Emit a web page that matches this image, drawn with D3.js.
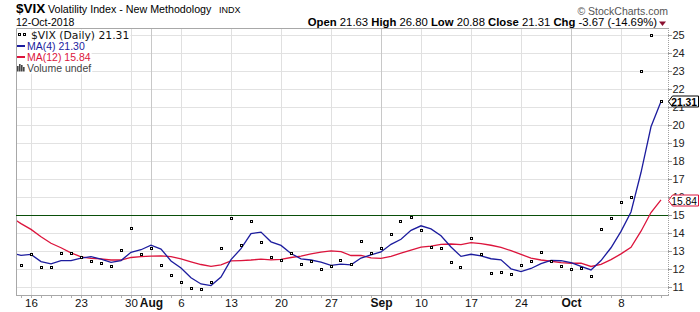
<!DOCTYPE html>
<html>
<head>
<meta charset="utf-8">
<script src="https://cdn.jsdelivr.net/npm/d3@7/dist/d3.min.js"></script>
<style>
  body { margin: 0; background: #fff; }
  svg { display: block; font-family: "Liberation Sans", Arial, sans-serif; }
</style>
</head>
<body>
<div id="chart"></div>
<script>
// trading days shown (first one sits just left of the frame)
const dates = [
  "2018-07-12","2018-07-13","2018-07-16","2018-07-17","2018-07-18","2018-07-19","2018-07-20",
  "2018-07-23","2018-07-24","2018-07-25","2018-07-26","2018-07-27","2018-07-30","2018-07-31",
  "2018-08-01","2018-08-02","2018-08-03","2018-08-06","2018-08-07","2018-08-08","2018-08-09","2018-08-10",
  "2018-08-13","2018-08-14","2018-08-15","2018-08-16","2018-08-17","2018-08-20","2018-08-21","2018-08-22",
  "2018-08-23","2018-08-24","2018-08-27","2018-08-28","2018-08-29","2018-08-30","2018-08-31",
  "2018-09-04","2018-09-05","2018-09-06","2018-09-07","2018-09-10","2018-09-11","2018-09-12","2018-09-13",
  "2018-09-14","2018-09-17","2018-09-18","2018-09-19","2018-09-20","2018-09-21","2018-09-24","2018-09-25",
  "2018-09-26","2018-09-27","2018-09-28",
  "2018-10-01","2018-10-02","2018-10-03","2018-10-04","2018-10-05","2018-10-08","2018-10-09","2018-10-10",
  "2018-10-11","2018-10-12"
];

const closes = [
  12.58,12.18,12.83,12.06,12.10,12.87,12.86,12.62,12.41,12.29,12.14,13.03,14.26,12.83,
  13.15,12.19,11.64,11.27,10.93,10.85,11.27,13.16,14.78,13.31,14.64,13.45,12.64,12.49,12.86,12.25,
  12.41,11.99,12.16,12.50,12.25,13.53,12.86,
  13.16,13.91,14.65,14.88,14.16,13.22,13.14,12.37,12.07,13.68,12.79,11.75,11.80,11.68,12.20,12.42,
  12.89,12.41,12.12,
  12.00,12.05,11.61,14.22,14.82,15.69,15.95,22.96,24.98,21.31
];

const ma4 = [
  12.89,12.76,12.81,12.41,12.29,12.47,12.47,12.61,12.69,12.55,12.37,12.47,12.93,13.07,
  13.32,13.11,12.45,12.06,11.51,11.17,11.08,11.55,12.52,13.13,13.97,14.05,13.51,13.31,12.86,12.56,
  12.50,12.38,12.20,12.27,12.23,12.61,12.79,
  12.95,13.37,13.65,14.15,14.40,14.23,13.85,13.22,12.70,12.82,12.73,12.57,12.51,12.01,11.86,12.03,
  12.30,12.48,12.46,
  12.36,12.15,11.95,12.47,13.18,14.09,15.17,17.36,19.90,21.30
];

const ma12 = [
  14.88,14.52,14.20,13.79,13.43,13.18,12.90,12.68,12.59,12.56,12.50,12.50,12.64,12.69,
  12.72,12.73,12.69,12.56,12.40,12.25,12.15,12.23,12.45,12.47,12.50,12.55,12.51,12.54,12.64,12.72,
  12.84,12.94,13.01,12.96,12.75,12.76,12.62,
  12.59,12.70,12.88,13.05,13.21,13.27,13.37,13.39,13.35,13.47,13.41,13.32,13.20,13.02,12.81,12.61,
  12.50,12.43,12.35,
  12.32,12.32,12.14,12.26,12.52,12.84,13.20,14.10,15.14,15.84
];

const tickDates = ["2018-07-16","2018-07-23","2018-07-30","2018-08-01","2018-08-06","2018-08-13",
  "2018-08-20","2018-08-27","2018-09-04","2018-09-10","2018-09-17","2018-09-24","2018-10-01","2018-10-08"];
const tickLabels = ["16","23","30","Aug","6","13","20","27","Sep","10","17","24","Oct","8"];
const monthLabels = ["Aug","Sep","Oct"];

const yTicks = [11,12,13,14,15,16,17,18,19,20,21,22,23,24,25];
const refLevel = 15;

const headerLabels = ["Open","High","Low","Close","Chg"];
const headerValues = ["21.63","26.80","20.88","21.31","-3.67 (-14.69%)"];

const legendTexts = ["$VIX (Daily) 21.31","MA(4) 21.30","MA(12) 15.84","Volume undef"];

const W = 700, H = 312;
const frame = {left: 16, top: 28, right: 668, bottom: 295};
const blue = "#1c1c9e", red = "#dc143c";

const svg = d3.select("#chart").append("svg")
  .attr("width", W)
  .attr("height", H);
svg.append("rect").attr("width", W).attr("height", H).attr("fill", "#fff");

const idx = new Map(dates.map((d, i) => [d, i]));

// 10px per trading day
const x = d3.scaleLinear()
  .domain([0, dates.length - 1])
  .range([11, 11 + 10 * (dates.length - 1)]);

const y = d3.scaleLinear()
  .domain([10.556, 25.389])
  .range([frame.bottom, frame.top]);

const px = v => Math.round(v) + 0.5;

svg.append("clipPath").attr("id", "plotClip")
  .append("rect")
  .attr("x", frame.left + 1).attr("y", frame.top + 1)
  .attr("width", frame.right - frame.left - 1)
  .attr("height", frame.bottom - frame.top - 1);

// grid
const grid = svg.append("g");
grid.selectAll(".hg")
  .data(yTicks)
  .enter().append("line")
  .attr("x1", frame.left).attr("x2", frame.right)
  .attr("y1", d => px(y(d))).attr("y2", d => px(y(d)))
  .attr("stroke", "#e2e2e2");

grid.selectAll(".vg")
  .data(tickDates)
  .enter().append("line")
  .attr("x1", d => px(x(idx.get(d)))).attr("x2", d => px(x(idx.get(d))))
  .attr("y1", frame.top).attr("y2", frame.bottom)
  .attr("stroke", (d, i) => monthLabels.includes(tickLabels[i]) ? "#c8c8c8" : "#e0e0e0");

// frame
svg.append("path")
  .attr("d", `M${frame.left + 0.5},${frame.bottom + 0.5}V${frame.top + 0.5}H${frame.right + 0.5}`)
  .attr("fill", "none").attr("stroke", "#a8a8a8");
svg.append("line")
  .attr("x1", frame.left).attr("x2", frame.right + 1)
  .attr("y1", frame.bottom + 0.5).attr("y2", frame.bottom + 0.5)
  .attr("stroke", "#a8a8a8");
svg.append("line")
  .attr("x1", frame.right + 0.5).attr("x2", frame.right + 0.5)
  .attr("y1", frame.top).attr("y2", frame.bottom)
  .attr("stroke", "#a0a0a0").attr("stroke-dasharray", "1,1");

// day ticks under the frame
svg.append("g").selectAll("line")
  .data(dates.slice(1))
  .enter().append("line")
  .attr("x1", d => px(x(idx.get(d)))).attr("x2", d => px(x(idx.get(d))))
  .attr("y1", frame.bottom + 1).attr("y2", frame.bottom + 3)
  .attr("stroke", "#b0b0b0");

// reference level
svg.append("line")
  .attr("x1", frame.left).attr("x2", frame.right)
  .attr("y1", px(y(refLevel))).attr("y2", px(y(refLevel)))
  .attr("stroke", "#0a4f0a");

// legend backgrounds + text
const legend = svg.append("g");
const legendBase = [38.5, 50, 61, 71.5];
const legendX = [31, 27, 27, 27];
const legendColors = ["#111", blue, red, "#444"];
legendTexts.forEach((t, i) => {
  const txt = legend.append("text")
    .attr("x", legendX[i]).attr("y", legendBase[i])
    .attr("fill", legendColors[i])
    .style("font-family", i === 0 ? "'DejaVu Sans', Verdana, sans-serif" : null)
    .style("font-size", i === 0 ? "10.8px" : "10.5px")
    .text(t);
  const w = txt.node().getComputedTextLength();
  legend.insert("rect", "text")
    .attr("x", frame.left + 1).attr("y", legendBase[i] - 9)
    .attr("width", legendX[i] + w + 1 - frame.left - 1).attr("height", 11)
    .attr("fill", "#fff");
});
// legend markers
[19, 24].forEach(cx => legend.append("rect")
  .attr("x", cx - 0.5).attr("y", 33.5).attr("width", 2).attr("height", 2)
  .attr("fill", "#fff").attr("stroke", "#000"));
legend.append("rect").attr("x", 17).attr("y", 45).attr("width", 8).attr("height", 2).attr("fill", blue);
legend.append("rect").attr("x", 17).attr("y", 56).attr("width", 8).attr("height", 2).attr("fill", red);
[[17,66],[19,64],[21,65],[23,67]].forEach(([bx, by]) => legend.append("rect")
  .attr("x", bx).attr("y", by).attr("width", 1.6).attr("height", 71.5 - by).attr("fill", "#444"));

// series
const plot = svg.append("g").attr("clip-path", "url(#plotClip)");
const line = d3.line().x((d, i) => x(i)).y(d => y(d));

plot.append("path").datum(ma12)
  .attr("d", line).attr("fill", "none")
  .attr("stroke", red).attr("stroke-width", 1.3);
plot.append("path").datum(ma4)
  .attr("d", line).attr("fill", "none")
  .attr("stroke", blue).attr("stroke-width", 1.3);

plot.selectAll(".pt")
  .data(closes)
  .enter().append("rect")
  .attr("class", "pt")
  .attr("x", (d, i) => Math.floor(x(i)) - 0.5)
  .attr("y", d => Math.floor(y(d)) - 0.5)
  .attr("width", 2).attr("height", 2)
  .attr("fill", "#fff").attr("stroke", "#000");

// right axis
const yAxis = svg.append("g");
yAxis.selectAll("line")
  .data(yTicks)
  .enter().append("line")
  .attr("x1", frame.right).attr("x2", frame.right + 4)
  .attr("y1", d => px(y(d))).attr("y2", d => px(y(d)))
  .attr("stroke", "#999");
yAxis.selectAll("text")
  .data(yTicks)
  .enter().append("text")
  .attr("x", frame.right + 4.5)
  .attr("y", d => y(d) + 4)
  .attr("fill", "#222")
  .style("font-size", "11px")
  .text(d => d);

// last value tags
function tag(v, stroke, bold) {
  const yc = Math.round(y(v)) + 0.5;
  const g = svg.append("g");
  g.append("path")
    .attr("d", `M${frame.right + 0.5},${yc}L${frame.right + 4.5},${yc - 5.5}H${W - 1.5}V${yc + 5.5}H${frame.right + 4.5}Z`)
    .attr("fill", "#fff").attr("stroke", stroke);
  g.append("text")
    .attr("x", W - 3).attr("y", yc + 4)
    .attr("text-anchor", "end")
    .attr("fill", "#000")
    .style("font-size", "10.3px")
    .style("font-weight", bold ? "bold" : "normal")
    .text(v.toFixed(2));
}
tag(closes[closes.length - 1], "#000", true);
tag(ma12[ma12.length - 1], red, false);

// bottom axis labels
svg.append("g").selectAll("text")
  .data(tickDates)
  .enter().append("text")
  .attr("x", d => x(idx.get(d)) + 0.5)
  .attr("y", 307)
  .attr("text-anchor", "middle")
  .attr("fill", "#111")
  .style("font-size", (d, i) => monthLabels.includes(tickLabels[i]) ? "12px" : "11.5px")
  .style("font-weight", (d, i) => monthLabels.includes(tickLabels[i]) ? "bold" : "normal")
  .text((d, i) => tickLabels[i]);

// header
svg.append("text").attr("x", 16).attr("y", 13)
  .style("font-size", "13.5px").style("font-weight", "bold").attr("fill", "#000")
  .text("$VIX");
svg.append("text").attr("x", 48).attr("y", 13)
  .style("font-size", "10.7px").attr("fill", "#000")
  .text("Volatility Index - New Methodology");
svg.append("text").attr("x", 219).attr("y", 13)
  .style("font-size", "9px").attr("fill", "#000")
  .text("INDX");
svg.append("text").attr("x", 16).attr("y", 26)
  .style("font-size", "10.5px").attr("fill", "#000")
  .text("12-Oct-2018");

const quote = svg.append("text").attr("x", 657).attr("y", 26)
  .attr("text-anchor", "end")
  .style("font-size", "11.3px").attr("fill", "#000");
headerLabels.forEach((lab, i) => {
  quote.append("tspan").style("font-weight", "bold").text((i ? " " : "") + lab);
  quote.append("tspan").text(" " + headerValues[i]);
});
svg.append("path")
  .attr("d", "M659,21.5L666,21.5L662.5,26Z")
  .attr("fill", "#8b1030");

svg.append("text").attr("x", 668).attr("y", 15)
  .attr("text-anchor", "end")
  .style("font-size", "10.5px").attr("fill", "#555")
  .text("\u00a9 StockCharts.com");
</script>
</body>
</html>
